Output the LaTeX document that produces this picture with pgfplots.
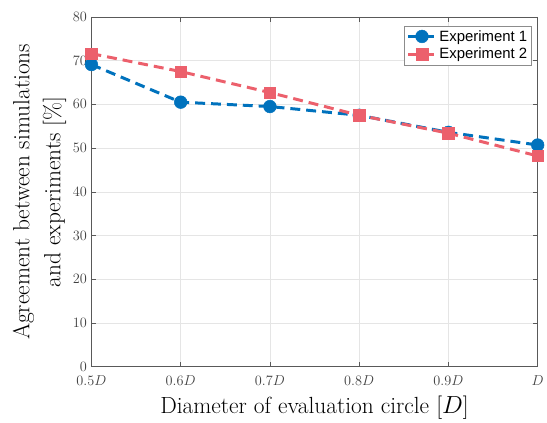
\documentclass[border=0pt]{standalone}
\usepackage{pgfplots}
\pgfplotsset{compat=1.18}
\usepackage{fontspec}
\newfontfamily\legfont{Liberation Sans}
\definecolor{mblue}{RGB}{0,114,189}
\definecolor{mred}{RGB}{236,96,108}
\begin{document}
\begin{tikzpicture}
\begin{axis}[
  scale only axis,
  width=449pt, height=352pt,
  xmin=0.5, xmax=1.0, ymin=0, ymax=80,
  xtick={0.5,0.6,0.7,0.8,0.9,1.0},
  xticklabels={$0.5D$,$0.6D$,$0.7D$,$0.8D$,$0.9D$,$D$},
  ytick={0,10,...,80},
  tick align=inside,
  major tick length=5pt,
  tick style={gray!70!black, line width=0.5pt},
  axis line style={gray!70!black, line width=0.6pt},
  grid=major,
  grid style={gray!20, line width=0.5pt},
  ticklabel style={font=\fontsize{15}{15}\selectfont, text=black!75},
  xticklabel style={yshift=-6pt},
  yticklabel style={xshift=-1pt},
  label style={font=\fontsize{23.5}{31}\selectfont},
  xlabel={Diameter of evaluation circle [$D$]},
  ylabel={Agreement between simulations\\and experiments [\%]},
  ylabel style={align=center, yshift=0pt},
  xlabel style={yshift=-3pt},
  legend style={at={(0.987,0.975)}, anchor=north east,
    font=\legfont\fontsize{15}{17}\selectfont, draw=black!45,
    inner sep=2.5pt, row sep=1.5pt},
  legend cell align=left,
  legend image code/.code={
    \draw[#1] (0pt,0pt) -- (28pt,0pt);
    \draw[#1, only marks] plot coordinates {(14pt,0pt)};
  },
]
\addplot[mblue, line width=3pt, dashed, dash pattern=on 10pt off 6pt,
  mark=*, mark size=6.4pt, mark options={solid, fill=mblue, line width=0.5pt}]
  coordinates {(0.5,69.1) (0.6,60.5) (0.7,59.5) (0.8,57.5) (0.9,53.6) (1.0,50.7)};
\addlegendentry{Experiment 1}
\addplot[mred, line width=3pt, dashed, dash pattern=on 10pt off 6pt,
  mark=square*, mark size=5.8pt, mark options={solid, fill=mred, line width=0.5pt}]
  coordinates {(0.5,71.6) (0.6,67.5) (0.7,62.7) (0.8,57.5) (0.9,53.4) (1.0,48.2)};
\addlegendentry{Experiment 2}
\end{axis}
\path ([xshift=-92pt,yshift=17pt]current axis.north west)
  -- ([xshift=6pt,yshift=-55pt]current axis.south east);
\end{tikzpicture}
\end{document}
